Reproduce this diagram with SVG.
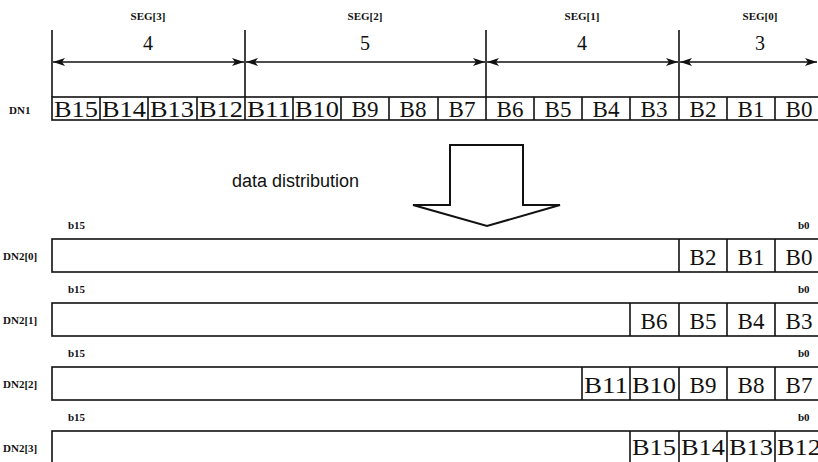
<svg xmlns="http://www.w3.org/2000/svg" width="818" height="462" viewBox="0 0 818 462">
<style>
.ln{stroke:#111;stroke-width:1.6;fill:none}
.cell{stroke:#111;stroke-width:1.6;fill:#fff}
.bt{font-family:"Liberation Serif",serif;font-size:23px;fill:#111;text-anchor:middle}
.num{font-family:"Liberation Serif",serif;font-size:20px;fill:#111;text-anchor:middle}
.sm{font-family:"Liberation Serif",serif;font-size:11px;font-weight:bold;fill:#111}
.smc{font-family:"Liberation Serif",serif;font-size:11px;font-weight:bold;fill:#111;text-anchor:middle}
.dd{font-family:"Liberation Sans",sans-serif;font-size:18px;fill:#111}
</style>
<defs>
<marker id="ah" viewBox="0 0 12 8" refX="12" refY="4" markerWidth="12" markerHeight="8" markerUnits="userSpaceOnUse" orient="auto-start-reverse">
<path d="M0,0 L12,4 L0,8 L3,4 Z" fill="#111"/>
</marker>
</defs>
<rect width="818" height="462" fill="#fff"/>
<g id="segments">
<text class="smc" x="148" y="20">SEG[3]</text>
<text class="num" x="148" y="50">4</text>
<text class="smc" x="365" y="20">SEG[2]</text>
<text class="num" x="365" y="50">5</text>
<text class="smc" x="582" y="20">SEG[1]</text>
<text class="num" x="582" y="50">4</text>
<text class="smc" x="760" y="20">SEG[0]</text>
<text class="num" x="760" y="50">3</text>
</g>
<g id="connectors">
<line class="ln" x1="52" y1="30" x2="52" y2="97"/>
<line class="ln" x1="245" y1="30" x2="245" y2="97"/>
<line class="ln" x1="486" y1="30" x2="486" y2="97"/>
<line class="ln" x1="679" y1="30" x2="679" y2="97"/>
<line class="ln" x1="53" y1="62" x2="244" y2="62" marker-start="url(#ah)" marker-end="url(#ah)"/>
<line class="ln" x1="246" y1="62" x2="485" y2="62" marker-start="url(#ah)" marker-end="url(#ah)"/>
<line class="ln" x1="487" y1="62" x2="678" y2="62" marker-start="url(#ah)" marker-end="url(#ah)"/>
<line class="ln" x1="680" y1="62" x2="817" y2="62" marker-start="url(#ah)" marker-end="url(#ah)"/>
</g>
<g id="dn1">
<text class="sm" x="9" y="114">DN1</text>
<rect class="cell" x="52" y="97" width="780" height="23"/>
<g class="ln">
<line x1="100" y1="97" x2="100" y2="120"/><line x1="148" y1="97" x2="148" y2="120"/><line x1="197" y1="97" x2="197" y2="120"/>
<line x1="245" y1="97" x2="245" y2="120"/><line x1="293" y1="97" x2="293" y2="120"/><line x1="341" y1="97" x2="341" y2="120"/>
<line x1="389" y1="97" x2="389" y2="120"/><line x1="438" y1="97" x2="438" y2="120"/><line x1="486" y1="97" x2="486" y2="120"/>
<line x1="534" y1="97" x2="534" y2="120"/><line x1="582" y1="97" x2="582" y2="120"/><line x1="630" y1="97" x2="630" y2="120"/>
<line x1="679" y1="97" x2="679" y2="120"/><line x1="727" y1="97" x2="727" y2="120"/><line x1="775" y1="97" x2="775" y2="120"/>
</g>
<text class="bt" x="76" y="117" textLength="44" lengthAdjust="spacingAndGlyphs">B15</text><text class="bt" x="124" y="117" textLength="44" lengthAdjust="spacingAndGlyphs">B14</text><text class="bt" x="172" y="117" textLength="44" lengthAdjust="spacingAndGlyphs">B13</text><text class="bt" x="221" y="117" textLength="44" lengthAdjust="spacingAndGlyphs">B12</text>
<text class="bt" x="269" y="117" textLength="44" lengthAdjust="spacingAndGlyphs">B11</text><text class="bt" x="317" y="117" textLength="44" lengthAdjust="spacingAndGlyphs">B10</text><text class="bt" x="365" y="117">B9</text><text class="bt" x="413" y="117">B8</text>
<text class="bt" x="462" y="117">B7</text><text class="bt" x="510" y="117">B6</text><text class="bt" x="558" y="117">B5</text><text class="bt" x="606" y="117">B4</text>
<text class="bt" x="654" y="117">B3</text><text class="bt" x="703" y="117">B2</text><text class="bt" x="751" y="117">B1</text><text class="bt" x="799" y="117">B0</text>
</g>
<g id="distribution-arrow">
<polygon points="450,145 523,145 523,205 560,205 487,226 413,205 450,205" fill="#fff" stroke="#111" stroke-width="2" stroke-linejoin="miter"/>
<text class="dd" x="232" y="187">data distribution</text>
</g>
<g id="dn2-0">
<text class="sm" x="68" y="229">b15</text><text class="sm" x="798" y="229">b0</text>
<text class="sm" x="3" y="260">DN2[0]</text>
<rect class="cell" x="52" y="239" width="780" height="33"/>
<line class="ln" x1="679" y1="239" x2="679" y2="272"/><line class="ln" x1="727" y1="239" x2="727" y2="272"/><line class="ln" x1="775" y1="239" x2="775" y2="272"/>
<text class="bt" x="703" y="265">B2</text><text class="bt" x="751" y="265">B1</text><text class="bt" x="799" y="265">B0</text>
</g>
<g id="dn2-1">
<text class="sm" x="68" y="293">b15</text><text class="sm" x="798" y="293">b0</text>
<text class="sm" x="3" y="324">DN2[1]</text>
<rect class="cell" x="52" y="303" width="780" height="33"/>
<line class="ln" x1="630" y1="303" x2="630" y2="336"/><line class="ln" x1="679" y1="303" x2="679" y2="336"/><line class="ln" x1="727" y1="303" x2="727" y2="336"/><line class="ln" x1="775" y1="303" x2="775" y2="336"/>
<text class="bt" x="654" y="329">B6</text><text class="bt" x="703" y="329">B5</text><text class="bt" x="751" y="329">B4</text><text class="bt" x="799" y="329">B3</text>
</g>
<g id="dn2-2">
<text class="sm" x="68" y="357">b15</text><text class="sm" x="798" y="357">b0</text>
<text class="sm" x="3" y="388">DN2[2]</text>
<rect class="cell" x="52" y="367" width="780" height="33"/>
<line class="ln" x1="582" y1="367" x2="582" y2="400"/><line class="ln" x1="630" y1="367" x2="630" y2="400"/><line class="ln" x1="679" y1="367" x2="679" y2="400"/><line class="ln" x1="727" y1="367" x2="727" y2="400"/><line class="ln" x1="775" y1="367" x2="775" y2="400"/>
<text class="bt" x="606" y="393" textLength="44" lengthAdjust="spacingAndGlyphs">B11</text><text class="bt" x="654" y="393" textLength="44" lengthAdjust="spacingAndGlyphs">B10</text><text class="bt" x="703" y="393">B9</text><text class="bt" x="751" y="393">B8</text><text class="bt" x="799" y="393">B7</text>
</g>
<g id="dn2-3">
<text class="sm" x="68" y="421">b15</text><text class="sm" x="798" y="421">b0</text>
<text class="sm" x="3" y="452">DN2[3]</text>
<rect class="cell" x="52" y="431" width="780" height="40"/>
<line class="ln" x1="630" y1="431" x2="630" y2="464"/><line class="ln" x1="679" y1="431" x2="679" y2="464"/><line class="ln" x1="727" y1="431" x2="727" y2="464"/><line class="ln" x1="775" y1="431" x2="775" y2="464"/>
<text class="bt" x="654" y="455" textLength="44" lengthAdjust="spacingAndGlyphs">B15</text><text class="bt" x="703" y="455" textLength="44" lengthAdjust="spacingAndGlyphs">B14</text><text class="bt" x="751" y="455" textLength="44" lengthAdjust="spacingAndGlyphs">B13</text><text class="bt" x="799" y="455" textLength="44" lengthAdjust="spacingAndGlyphs">B12</text>
</g>
</svg>
